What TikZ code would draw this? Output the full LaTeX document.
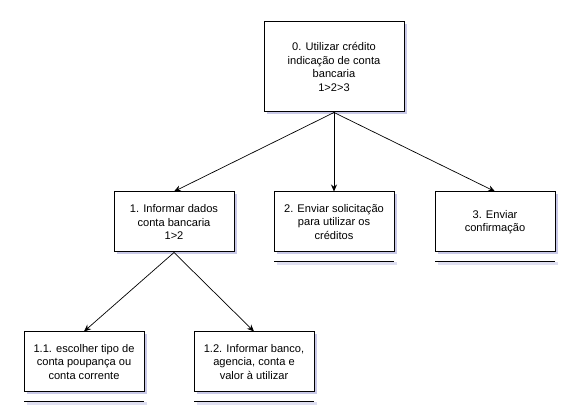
\documentclass[tikz,border=0pt]{standalone}
\usepackage{fontspec}
\setmainfont{Liberation Sans}
\usetikzlibrary{arrows.meta,shadows}
\begin{document}
\begin{tikzpicture}[x=1pt,y=-1pt,
  shd/.style={drop shadow={shadow xshift=2.5pt,shadow yshift=-2.5pt,fill=blue!40!gray,opacity=0.3}},
  box/.style={draw=black,line width=1pt,fill=white,shd,minimum width=120pt,minimum height=60pt,
    align=center,font=\fontsize{11.1}{13.4}\selectfont,inner sep=2pt},
  conn/.style={draw=black,line width=0.7pt,-{Stealth[length=7pt,width=6pt]}},
  uline/.style={draw=black,line width=1pt}]
\useasboundingbox (0,0) rectangle (565,419);
\node[box,minimum width=140pt,minimum height=90pt] (n0) at (334,67) {0. Utilizar crédito\\indicação de conta\\bancaria\\1>2>3};
\node[box] (n1) at (174,222) {1. Informar dados\\conta bancaria\\1>2};
\node[box] (n2) at (334,222) {2. Enviar solicitação\\para utilizar os\\créditos};
\node[box] (n3) at (495,222) {3. Enviar\\confirmação};
\node[box] (n11) at (84,362) {1.1. escolher tipo de\\conta poupança ou\\conta corrente};
\node[box] (n12) at (254,362) {1.2. Informar banco,\\agencia, conta e\\valor à utilizar};
\coordinate (l2a) at (274,262); \coordinate (l2b) at (394,262);
\coordinate (l3a) at (435,262); \coordinate (l3b) at (555,262);
\coordinate (l11a) at (24,402); \coordinate (l11b) at (144,402);
\coordinate (l12a) at (194,402); \coordinate (l12b) at (314,402);
\foreach \a/\b in {l2a/l2b,l3a/l3b,l11a/l11b,l12a/l12b}{
  \fill[blue!40!gray,opacity=0.18] ([xshift=2.5pt,yshift=-0.5pt]\a) rectangle ([xshift=2.5pt,yshift=-3.5pt]\b);
  \draw[uline] (\a) -- (\b);}
\draw[conn] (n0.south) -- (n1.north);
\draw[conn] (n0.south) -- (n2.north);
\draw[conn] (n0.south) -- (n3.north);
\draw[conn] (n1.south) -- (n11.north);
\draw[conn] (n1.south) -- (n12.north);
\end{tikzpicture}
\end{document}
